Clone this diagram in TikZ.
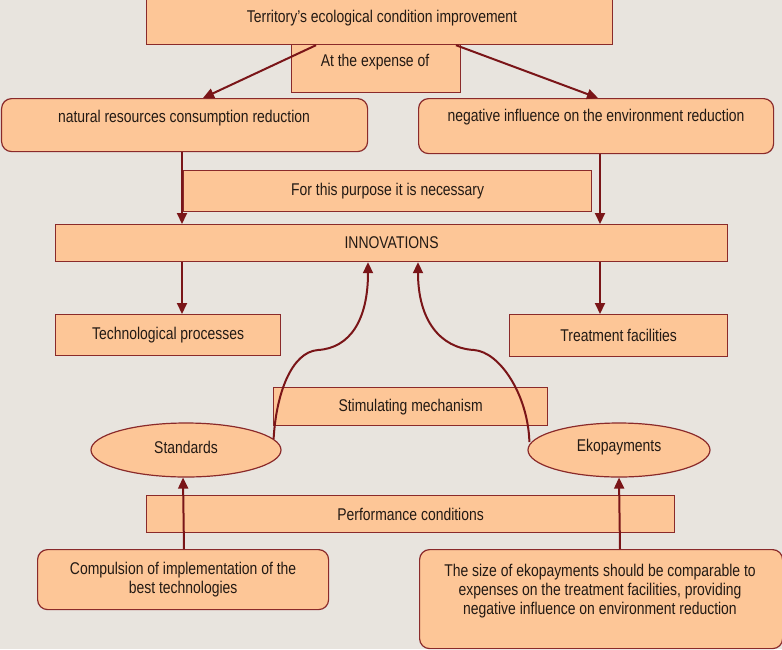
\documentclass[tikz,border=0pt]{standalone}
\usepackage{fontspec}
\setmainfont[FakeStretch=0.82]{Liberation Sans}
\usetikzlibrary{arrows.meta,shapes.geometric}
\definecolor{bg}{HTML}{E8E4DE}
\definecolor{peach}{HTML}{FDC697}
\definecolor{edge}{HTML}{8A2A2A}
\definecolor{arr}{HTML}{7A1518}
\definecolor{ink}{HTML}{231A14}
\begin{document}
\begin{tikzpicture}[x=1pt,y=-1pt,
  font=\fontsize{17}{19}\selectfont,
  box/.style={draw=edge, fill=peach, line width=1.2pt, inner sep=0pt, anchor=north west, text=ink, align=center},
  rbox/.style={box, rounded corners=10pt},
  oval/.style={ellipse, draw=edge, fill=peach, line width=1.2pt, inner sep=0pt, text=ink, minimum width=190pt, minimum height=54pt},
  txt/.style={text=ink, inner sep=0pt, align=center},
  arrow/.style={draw=arr, line width=2pt, -{Triangle[length=11pt,width=10pt]}}]
\fill[bg] (0,0) rectangle (782,649);
\useasboundingbox (0,0) rectangle (782,649);
% boxes
\node[box, minimum width=466pt, minimum height=45pt] (top) at (146,-1) {};
\node[txt] (ttop) at (382,18) {Territory’s ecological condition improvement};
\node[box, minimum width=169pt, minimum height=48pt] (exp) at (291,44) {};
\node[txt] (texp) at (375,62) {At the expense of};
\node[rbox, minimum width=366pt, minimum height=53pt] (lrb) at (1,98) {};
\node[txt] (tlrb) at (184,118) {natural resources consumption reduction};
\node[rbox, minimum width=355pt, minimum height=55pt] (rrb) at (418,98) {};
\node[txt] (trrb) at (596,117) {negative influence on the environment reduction};
\node[box, minimum width=408pt, minimum height=41pt] (purp) at (183,170) {For this purpose it is necessary};
\node[box, minimum width=672pt, minimum height=37pt] (inno) at (55,224) {INNOVATIONS};
\node[box, minimum width=225pt, minimum height=41pt] (tech) at (55,314) {Technological processes};
\node[box, minimum width=218pt, minimum height=42pt] (treat) at (509,314) {Treatment facilities};
\node[box, minimum width=274pt, minimum height=38pt] (stim) at (273,387) {Stimulating mechanism};
\node[oval] (std) at (186,450) {};
\node[txt] (tstd) at (186,447) {Standards};
\node[oval, minimum width=182pt] (eko) at (619,450) {};
\node[txt] (teko) at (619,447) {Ekopayments};
\node[box, minimum width=528pt, minimum height=37pt] (perf) at (146,495) {Performance conditions};
\node[rbox, minimum width=291pt, minimum height=60pt] (comp) at (37,549) {Compulsion of implementation of the\\best technologies};
\node[rbox, minimum width=363pt, minimum height=99pt] (size) at (419,549) {};
\node[txt] (tsize) at (600,591) {The size of ekopayments should be comparable to\\expenses on the treatment facilities, providing\\negative influence on environment reduction};
% connectors
\draw[arrow] ([xshift=170pt]top.south west) -- ([xshift=202pt]lrb.north west);
\draw[arrow] ([xshift=310pt]top.south west) -- ([xshift=180pt]rrb.north west);
\draw[arrow] ([xshift=181pt]lrb.south west) -- ([xshift=127pt]inno.north west);
\draw[arrow] ([xshift=182pt]rrb.south west) -- ([xshift=545pt]inno.north west);
\draw[arrow] ([xshift=127pt]inno.south west) -- ([xshift=127pt]tech.north west);
\draw[arrow] ([xshift=545pt]inno.south west) -- ([xshift=91pt]treat.north west);
\draw[arrow] ([xshift=-8pt,yshift=11pt]std.east) .. controls (276,395) and (291,352) .. (318,350)
  .. controls (350,348) and (368,320) .. ([xshift=313pt]inno.south west);
\draw[arrow] ([xshift=2pt,yshift=8pt]eko.west) .. controls (528,395) and (500,352) .. (474,350)
  .. controls (440,348) and (418,320) .. ([xshift=363pt]inno.south west);
\draw[arrow] ([xshift=147pt]comp.north west) -- ([xshift=-3pt]std.south);
\draw[arrow] ([xshift=201pt]size.north west) -- (eko.south);
\end{tikzpicture}
\end{document}
